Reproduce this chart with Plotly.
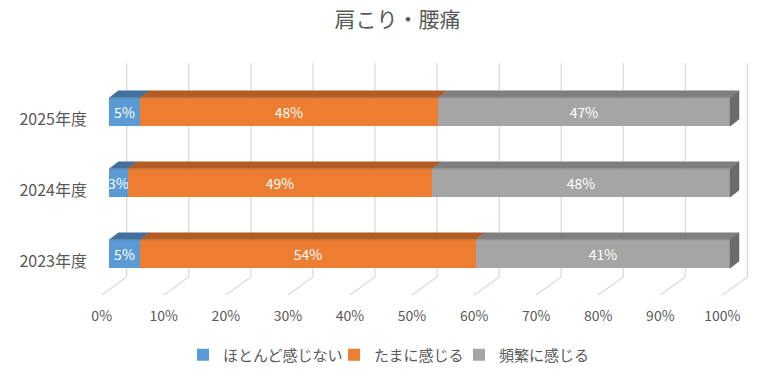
import plotly.graph_objects as go

# ---------------- data ----------------
title_text = "肩こり・腰痛"
categories = ["2023年度", "2024年度", "2025年度"]
series_names = ["ほとんど感じない", "たまに感じる", "頻繁に感じる"]
rarely = [5, 3, 5]
sometimes = [54, 49, 48]
often = [41, 48, 47]
x_ticks = [0, 10, 20, 30, 40, 50, 60, 70, 80, 90, 100]
x_tick_labels = ["0%", "10%", "20%", "30%", "40%", "50%", "60%", "70%", "80%", "90%", "100%"]

# ---------------- styles ----------------
front_colors = ["#5B9BD5", "#ED7D31", "#A5A5A5"]
top_colors = ["#41719C", "#B35C24", "#7F7F7F"]
side_color = "#6B6B6B"
grid_color = "#D9D9D9"
text_color = "#595959"
FONT = "Noto Sans CJK JP"

W, H = 770, 376
PAGE = 0                                  # body margin removed by post_script

# plot area in page pixels: x 90..760, y 50..300
PA_L, PA_R, PA_T, PA_B = 90, 760, 50, 300
ML, MR, MT, MB = PA_L - PAGE, W - (PA_R - PAGE), PA_T - PAGE, H - (PA_B - PAGE)
PLOT_W = PA_R - PA_L
PLOT_H = PA_B - PA_T

# projection of the 3D chart (page pixels)
FRONT_X0 = 109.3        # 0% on the bar front face
PX_PER_PCT = 6.207      # pixels per percent
CAT0_Y = 254.0          # centre of first category
PX_PER_CAT = 71.0
BAR_W = 0.4
DEPTH_DX, DEPTH_DY = 9.0, 7.0            # bar depth offset
WALL_DX = 17.4                           # back wall offset from bar front
WALL_TOP, FLOOR_BACK, FLOOR_FRONT = 63.0, 277.0, 295.0
FLOOR_DX = 25.0
LABEL_DX = 7.6                           # x tick labels sit on floor front edge
LABEL_DY = 7.0                           # category labels sit on the floor
LEGEND_TEXT_X = [221, 372, 497]          # legend item anchors
LEGEND_Y = 355
TITLE_X, TITLE_Y = 397.5, 20.0


def ux(px):
    return px / PX_PER_PCT


def uy(px):
    return px / PX_PER_CAT


def cat_at(py):
    return (CAT0_Y - py) / PX_PER_CAT


x_range = [-(FRONT_X0 - PA_L) / PX_PER_PCT, -(FRONT_X0 - PA_L) / PX_PER_PCT + PLOT_W / PX_PER_PCT]
y_range = [cat_at(PA_B), cat_at(PA_T)]

series_values = [rarely, sometimes, often]
cat_pos = list(range(len(categories)))
legend_ids = ["legend", "legend2", "legend3"]

fig = go.Figure()

# front faces: stacked bars
for name, vals, col, lg in zip(series_names, series_values, front_colors, legend_ids):
    fig.add_trace(go.Bar(
        name=name, y=cat_pos, x=vals, orientation="h", width=BAR_W,
        marker=dict(color=col, line=dict(width=0)),
        text=[f"{v}%" for v in vals], textposition="inside",
        insidetextanchor="middle", textangle=0, constraintext="none",
        textfont=dict(color="white", size=14, family=FONT),
        hoverinfo="skip", legend=lg,
    ))

# top faces
base = [0] * len(categories)
for vals, col in zip(series_values, top_colors):
    xs, ys = [], []
    for i, v in enumerate(vals):
        a, b = base[i], base[i] + v
        c1 = i + BAR_W / 2
        c2 = c1 + uy(DEPTH_DY)
        xs += [a, b, b + ux(DEPTH_DX), a + ux(DEPTH_DX), a, None]
        ys += [c1, c1, c2, c2, c1, None]
        base[i] = b
    fig.add_trace(go.Scatter(x=xs, y=ys, mode="lines", fill="toself",
                             fillcolor=col, line=dict(color=col, width=0.5),
                             showlegend=False, hoverinfo="skip"))

# right side faces of the last segment
xs, ys = [], []
for i, tot in enumerate(base):
    lo, hi = i - BAR_W / 2, i + BAR_W / 2
    xs += [tot, tot, tot + ux(DEPTH_DX), tot + ux(DEPTH_DX), tot, None]
    ys += [lo, hi, hi + uy(DEPTH_DY), lo + uy(DEPTH_DY), lo, None]
fig.add_trace(go.Scatter(x=xs, y=ys, mode="lines", fill="toself",
                         fillcolor=side_color, line=dict(color=side_color, width=0.5),
                         showlegend=False, hoverinfo="skip"))

# back wall gridlines with floor diagonals
for k in x_ticks:
    xb = k + ux(WALL_DX)
    fig.add_shape(type="path", xref="x", yref="y", layer="below",
                  path=f"M {xb},{cat_at(WALL_TOP)} L {xb},{cat_at(FLOOR_BACK)} "
                       f"L {xb - ux(FLOOR_DX)},{cat_at(FLOOR_FRONT)}",
                  line=dict(color=grid_color, width=1.2))

legend_common = dict(orientation="h", xref="container", yref="container",
                     xanchor="left", yanchor="middle", y=1 - (LEGEND_Y - PAGE) / H,
                     bgcolor="rgba(0,0,0,0)",
                     font=dict(size=15, color=text_color, family=FONT))

fig.update_layout(
    width=W, height=H,
    margin=dict(l=ML, r=MR, t=MT, b=MB),
    paper_bgcolor="white", plot_bgcolor="white",
    barmode="stack", bargap=0,
    font=dict(family=FONT, color=text_color),
    title=dict(text=title_text, x=(TITLE_X - PAGE) / W, xanchor="center",
               y=1 - (TITLE_Y - PAGE) / H, yanchor="middle",
               font=dict(size=21, color=text_color, family=FONT)),
    xaxis=dict(range=x_range, showgrid=False, zeroline=False, showline=False,
               fixedrange=True, ticks="",
               tickvals=[k - ux(LABEL_DX) for k in x_ticks], ticktext=x_tick_labels,
               ticklabelstandoff=6,
               tickfont=dict(size=14, color=text_color, family=FONT)),
    yaxis=dict(range=y_range, showgrid=False, zeroline=False, showline=False,
               fixedrange=True, ticks="",
               tickvals=[i - uy(LABEL_DY) for i in cat_pos], ticktext=categories,
               ticklabelstandoff=2,
               tickfont=dict(size=16, color=text_color, family=FONT)),
    uniformtext=dict(minsize=14, mode="show"),
    legend=dict(x=(LEGEND_TEXT_X[0] - 38 - PAGE) / W, **legend_common),
    legend2=dict(x=(LEGEND_TEXT_X[1] - 38 - PAGE) / W, **legend_common),
    legend3=dict(x=(LEGEND_TEXT_X[2] - 38 - PAGE) / W, **legend_common),
)

fig.write_html("out.html",
               config={"displayModeBar": False},
               post_script="document.body.style.margin='0px';")
